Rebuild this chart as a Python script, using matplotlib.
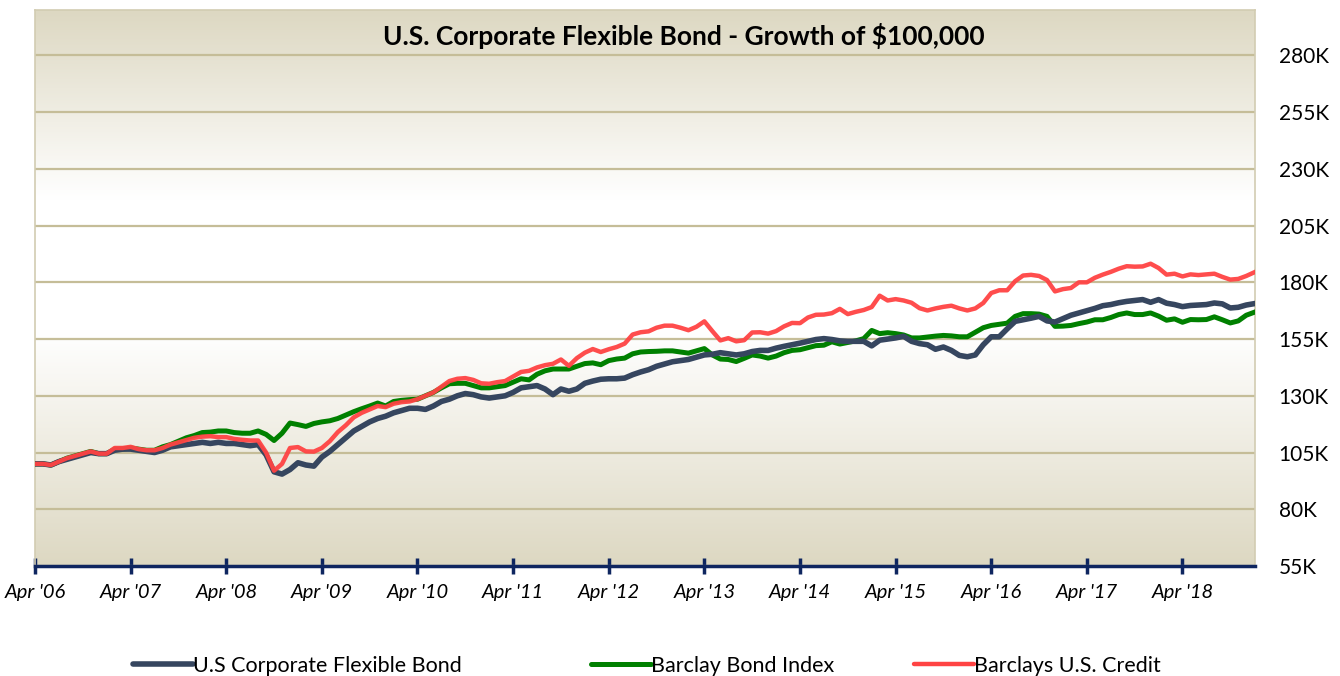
import matplotlib
matplotlib.use("Agg")
import matplotlib.pyplot as plt
import numpy as np
from matplotlib.colors import LinearSegmentedColormap
from matplotlib.lines import Line2D

plt.rcParams["font.family"] = ["Lato", "DejaVu Sans"]

# monthly values in $K, Apr 2006 .. Jan 2019
fund = [
    100, 100, 99.5, 101, 102, 103, 104, 105, 104.5, 104.5,
    106, 106.5, 106.5, 106, 105.5, 105, 106, 107.5, 108, 108.5,
    109, 109.5, 109, 109.5, 109, 109, 108.5, 108, 108.5, 104,
    96.5, 95.5, 97.5, 100.5, 99.5, 99, 103, 105.5, 108.5, 111.5,
    114.5, 116.5, 118.5, 120, 121, 122.5, 123.5, 124.5, 124.5, 124,
    125.5, 127.5, 128.5, 130, 131, 130.5, 129.5, 129, 129.5, 130,
    131.5, 133.5, 134, 134.5, 133, 130.5, 133, 132, 133, 135.5,
    136.5, 137.3, 137.5, 137.5, 137.8, 139.3, 140.5, 141.5, 143, 144,
    145, 145.5, 146, 147, 148, 148.3, 149, 148.5, 148, 148.5,
    149.5, 150, 150, 151, 151.8, 152.5, 153.2, 154, 154.8, 155.2,
    154.8, 154.2, 154, 154, 154, 152, 154.5, 155, 155.5, 156.2,
    154, 153, 152.5, 150.5, 151.5, 150, 147.8, 147.2, 148, 152.5,
    156, 156, 159.5, 162.8, 163.5, 164.2, 165, 163, 162.5, 164,
    165.5, 166.5, 167.5, 168.5, 169.7, 170.2, 171, 171.6, 172, 172.4,
    171.2, 172.4, 170.8, 170.2, 169.3, 169.8, 170, 170.2, 170.9, 170.5,
    168.7, 169, 170, 170.6,
]
bond_index = [
    100, 100, 99.5, 101, 102.5, 103.5, 104.5, 105.5, 104.5, 104.5,
    106.5, 106.5, 107, 106.5, 106, 106, 107.5, 108.5, 110, 111.5,
    112.5, 113.8, 114, 114.5, 114.5, 113.8, 113.5, 113.5, 114.5, 113,
    110.3, 113.5, 118, 117.3, 116.5, 117.8, 118.5, 119, 120, 121.5,
    123, 124.3, 125.5, 126.8, 125.5, 127.5, 128, 128.3, 128.5, 130,
    131.5, 133.5, 135.3, 135.5, 135.5, 134.5, 133.5, 133.5, 134, 134.5,
    136, 137.5, 137, 139.5, 141, 141.8, 141.8, 141.8, 143, 144.2,
    144.5, 143.7, 145.5, 146.2, 146.6, 148.5, 149.3, 149.5, 149.6, 149.8,
    149.8, 149.3, 148.8, 149.8, 150.8, 148, 146.2, 146, 145.1, 146.5,
    148, 147.5, 146.6, 147.5, 149, 150, 150.3, 151.2, 152.1, 152.3,
    153.8, 152.8, 153.5, 154.2, 155.2, 158.8, 157.4, 157.8, 157.4, 156.8,
    155.5, 155.5, 155.9, 156.3, 156.6, 156.4, 156, 156, 158, 160,
    161, 161.5, 162, 165, 166.2, 166.2, 166, 165, 160.6, 160.7,
    161, 161.8, 162.5, 163.5, 163.5, 164.5, 165.8, 166.5, 165.8, 165.8,
    166.5, 165.1, 163.3, 163.9, 162.4, 163.6, 163.5, 163.6, 164.8, 163.5,
    162.1, 163, 165.5, 166.8,
]
credit = [
    100, 100, 99.5, 101, 102.5, 103.5, 104.5, 105.5, 104.5, 104.5,
    107, 107, 107.5, 106.5, 106, 106, 107, 108.5, 109.5, 110.5,
    111.5, 112, 112.2, 111.8, 111.8, 111, 110.6, 110.3, 110.3, 105,
    97, 100, 107, 107.4, 105.5, 105.4, 107, 110, 114, 117,
    120.5, 122.5, 124, 125.5, 125, 126.5, 127.2, 127.5, 128.5, 130,
    131.5, 134, 136.5, 137.5, 137.8, 137, 135.5, 135.3, 136, 136.5,
    138.5, 140.5, 141, 142.5, 143.5, 144.1, 146, 143.2, 146.6, 149,
    150.6, 149.3, 150.5, 151.5, 153, 157, 158, 158.4, 160, 160.9,
    160.9, 160, 158.9, 160.4, 162.8, 158.5, 154.4, 155.4, 154, 154.5,
    157.9, 158, 157.4, 158.5, 160.6, 162.1, 162, 164.5, 165.7, 165.8,
    166.4, 168.3, 166, 167, 167.8, 169.1, 174.1, 172, 172.6, 172,
    171, 168.6, 167.6, 168.5, 169.2, 169.7, 168.5, 167.6, 168.5, 170.9,
    175.3, 176.5, 176.5, 180.5, 183, 183.3, 182.8, 181, 176, 177,
    177.5, 180, 180, 182, 183.4, 184.6, 186, 187.1, 186.9, 187,
    188.2, 186.3, 183.4, 183.8, 182.6, 183.5, 183.2, 183.5, 183.8, 182.4,
    181.2, 181.5, 182.8, 184.4,
]
year_labels = ["Apr '06", "Apr '07", "Apr '08", "Apr '09", "Apr '10", "Apr '11",
               "Apr '12", "Apr '13", "Apr '14", "Apr '15", "Apr '16", "Apr '17",
               "Apr '18"]
y_ticks = [55, 80, 105, 130, 155, 180, 205, 230, 255, 280]

NAVY = "#36465f"
GREEN = "#008000"
RED = "#ff4343"
GRID = "#c5bd98"
BEIGE = "#ddd8c2"

fig = plt.figure(figsize=(13.4, 6.76), dpi=100)
ax = fig.add_axes([35 / 1340, 110 / 676, 1220 / 1340, 556 / 676])

# parchment-style vertical gradient behind the plot
cmap = LinearSegmentedColormap.from_list(
    "parch", [(0.0, BEIGE), (0.42, "#ffffff"), (0.66, "#ffffff"), (1.0, BEIGE)])
grad = np.linspace(0, 1, 256).reshape(-1, 1)
ax.imshow(grad, cmap=cmap, aspect="auto", extent=[0, 1, 0, 1],
          transform=ax.transAxes, origin="lower", zorder=0)

months = np.arange(len(fund))
ax.plot(months, bond_index, color=GREEN, linewidth=3.6, zorder=3,
        solid_joinstyle="round", label="Barclay Bond Index")
ax.plot(months, fund, color=NAVY, linewidth=4.0, zorder=4,
        solid_joinstyle="round", label="U.S Corporate Flexible Bond")
ax.plot(months, credit, color=RED, linewidth=3.2, zorder=5, alpha=0.95,
        solid_joinstyle="round", label="Barclays U.S. Credit")

ax.set_xlim(0, 153.1)
ax.set_ylim(55, 300)
ax.set_xticks(np.arange(0, 12 * len(year_labels), 12))
ax.set_xticklabels(year_labels, fontsize=14.5, style="italic")
ax.set_yticks(y_ticks)
ax.set_yticklabels([f"{v}K" for v in y_ticks], fontsize=15, ha="left")
ax.yaxis.tick_right()
ax.tick_params(axis="y", length=0, pad=17)
ax.tick_params(axis="x", direction="inout", length=12, width=2.5,
               color="#0f2660", pad=7)
ax.grid(axis="y", color=GRID, linewidth=1.6, zorder=1)
for line in ax.get_ygridlines():
    line.set_zorder(1)

for side in ("top", "left", "right"):
    ax.spines[side].set_color("#d2ccb2")
    ax.spines[side].set_linewidth(1.2)
ax.spines["bottom"].set_color("#0f2660")
ax.spines["bottom"].set_linewidth(2.5)
ax.spines["bottom"].set_zorder(6)

fig.text(684 / 1340, 1 - 36 / 676, "U.S. Corporate Flexible Bond - Growth of $100,000",
         ha="center", va="center", fontsize=19, fontweight="bold")

# legend entries spaced like the original
legend_pos = [(133 / 1340, NAVY, 4.0, "U.S Corporate Flexible Bond"),
              (591 / 1340, GREEN, 3.6, "Barclay Bond Index"),
              (914 / 1340, RED, 3.2, "Barclays U.S. Credit")]
for xpos, color, lw, label in legend_pos:
    handle = Line2D([0], [0], color=color, linewidth=lw, solid_capstyle="round")
    fig.legend(handles=[handle], labels=[label], loc="center left",
               bbox_to_anchor=(xpos, 1 - 666 / 676), frameon=False,
               fontsize=15.5, handlelength=2.8, handletextpad=0.0,
               borderaxespad=0, borderpad=0)

fig.savefig("out.png", dpi=100)
